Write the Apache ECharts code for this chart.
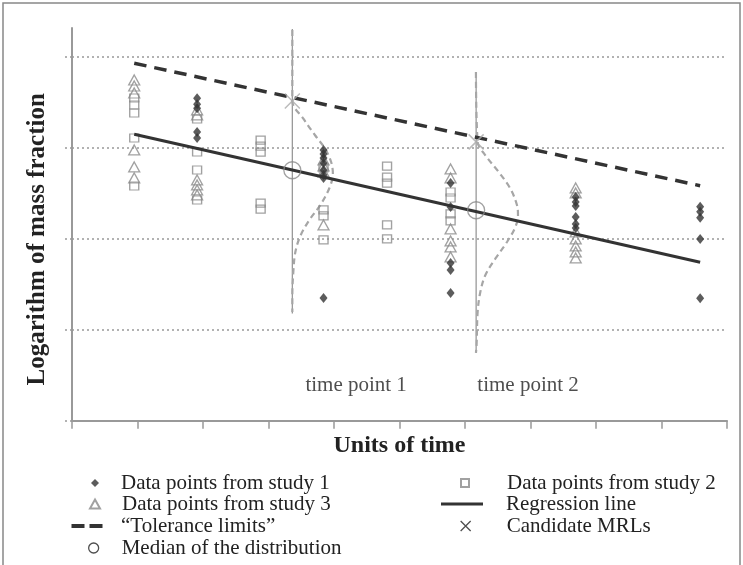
<!DOCTYPE html>
<html><head><meta charset="utf-8">
<script src="https://cdn.jsdelivr.net/npm/echarts@6/dist/echarts.min.js"></script>
<style>html,body{margin:0;padding:0;background:#fff}#c{width:743px;height:565px}</style>
</head><body><div id="c"></div>
<script>
// ---- data ----
const columnX = [0.95, 1.91, 2.88, 3.84, 4.81, 5.78, 7.69, 9.59];
const study1 = [[], [3.548, 3.482, 3.438, 3.177, 3.111], [], [2.979, 2.935, 2.891, 2.836, 2.759, 2.704, 2.671, 1.350], [], [2.615, 2.351, 1.735, 1.658, 1.405], [2.461, 2.406, 2.362, 2.241, 2.164, 2.120], [2.354, 2.299, 2.233, 1.999, 1.347]];
const study2 = [[3.550, 3.473, 3.385, 3.110, 2.582], [3.319, 2.956, 2.758, 2.428], [3.086, 3.020, 2.954, 2.394, 2.328], [2.781, 2.318, 2.252, 1.988], [2.800, 2.679, 2.613, 2.153, 1.999], [2.516, 2.450, 2.274, 2.197], [], []];
const study3 = [[3.748, 3.682, 3.605, 2.978, 2.791, 2.670], [3.418, 3.363, 2.648, 2.593, 2.538, 2.483], [], [2.869, 2.803, 2.737, 2.153], [], [2.769, 2.670, 2.109, 1.977, 1.911, 1.801], [2.560, 2.505, 2.076, 1.999, 1.922, 1.856, 1.790], []];
const regressionLine = [[0.95, 3.151], [9.59, 1.743]];
const toleranceLine = [[0.95, 3.932], [9.59, 2.585]];
const timePointX = [3.364, 6.17];
const candidateMRL = [3.517, 3.067];
const medianValue = [2.755, 2.315];
const timeLineTop = [4.31, 3.836];
const timeLineBottom = [1.18, 0.745];
const curve1 = [[3.364, 4.298], [3.364, 3.517], [3.532, 3.322], [3.711, 3.140], [3.864, 2.992], [3.956, 2.846], [3.983, 2.714], [3.930, 2.560], [3.792, 2.373], [3.624, 2.208], [3.486, 2.032], [3.410, 1.856], [3.379, 1.636], [3.364, 1.383], [3.364, 1.196]];
const curve2 = [[6.167, 3.836], [6.193, 3.067], [6.310, 2.920], [6.514, 2.736], [6.693, 2.552], [6.794, 2.370], [6.809, 2.260], [6.769, 2.131], [6.641, 1.966], [6.463, 1.782], [6.310, 1.600], [6.234, 1.416], [6.193, 1.196], [6.177, 0.833], [6.167, 0.745]];
const timePointLabels = ['time point 1', 'time point 2'];
const timePointLabelAt = [[3.563, 0.382], [6.188, 0.382]];
const xTicks = [0,1,2,3,4,5,6,7,8,9,10];
const yTicks = [0,1,2,3,4];
const names = {
  s1: 'Data points from study 1', s2: 'Data points from study 2', s3: 'Data points from study 3',
  reg: 'Regression line', tol: '\u201CTolerance limits\u201D', mrl: 'Candidate MRLs', med: 'Median of the distribution'
};
// ---- build ----
const FONT = '"Liberation Serif", "Times New Roman", serif';
function pts(cols) {
  const out = [];
  cols.forEach((vals, i) => vals.forEach(v => out.push([columnX[i], v])));
  return out;
}
const X_PATH = 'path://M0,0L10,10M10,0L0,10';

const legendLayout = [
  {name: names.s1, cx: 95, cy: 483, w: 8, h: 8, tx: 121},
  {name: names.s3, cx: 94, cy: 504, w: 10, h: 9, tx: 121},
  {name: names.tol, cx: 87, cy: 526, w: 31, h: 4, tx: 121, icon: 'path://M0,0h13v4h-13zM18,0h13v4h-13z'},
  {name: names.med, cx: 93, cy: 548, w: 10, h: 10, tx: 121, border: '#222'},
  {name: names.s2, cx: 464, cy: 483, w: 8, h: 8, tx: 506},
  {name: names.reg, cx: 462, cy: 504, w: 42, h: 3, tx: 506, icon: 'rect'},
  {name: names.mrl, cx: 465, cy: 526, w: 10, h: 10, tx: 506, border: '#222'}
];
const legends = legendLayout.map(L => {
  const left = L.cx - L.w / 2;
  const pad = L.tx - (left + L.w + 5);
  const lg = {
    data: [L.icon ? {name: L.name, icon: L.icon} : L.name],
    left: left, top: L.cy - 11, padding: 0, orient: 'horizontal',
    itemWidth: L.w, itemHeight: L.h, selectedMode: false,
    textStyle: {fontFamily: FONT, fontSize: 21, color: '#222', lineHeight: 22, padding: [0, 0, 0, pad]}
  };
  if (L.border) lg.itemStyle = {borderColor: L.border, borderWidth: 1.3};
  if (L.icon) { lg.symbolKeepAspect = false; lg.itemStyle = {color: '#333', borderWidth: 0}; }
  return lg;
});

const series = [
  {name: 'tp1line', type: 'line', data: [[timePointX[0], timeLineTop[0]], [timePointX[0], timeLineBottom[0]]], symbol: 'none', lineStyle: {color: '#999', width: 1.3}, z: 1},
  {name: 'tp2line', type: 'line', data: [[timePointX[1], timeLineTop[1]], [timePointX[1], timeLineBottom[1]]], symbol: 'none', lineStyle: {color: '#999', width: 1.3}, z: 1},
  {name: 'curve1', type: 'line', data: curve1, symbol: 'none', smooth: 0.35, lineStyle: {color: '#a6a6a6', width: 2.2, type: [6, 4]}, z: 1},
  {name: 'curve2', type: 'line', data: curve2, symbol: 'none', smooth: 0.35, lineStyle: {color: '#a6a6a6', width: 2.2, type: [6, 4]}, z: 1},
  {name: names.s2, type: 'scatter', data: pts(study2), symbol: 'rect', symbolSize: [9, 8], itemStyle: {color: 'rgba(0,0,0,0)', borderColor: '#8a8a8a', borderWidth: 1.3}, z: 2},
  {name: names.s3, type: 'scatter', data: pts(study3), symbol: 'triangle', symbolSize: [11, 10], itemStyle: {color: 'rgba(0,0,0,0)', borderColor: '#8a8a8a', borderWidth: 1.3}, z: 2},
  {name: names.s1, type: 'scatter', data: pts(study1), symbol: 'diamond', symbolSize: [8, 10], itemStyle: {color: '#333'}, z: 3},
  {name: names.tol, type: 'line', data: toleranceLine, symbol: 'none', itemStyle: {color: '#333'}, lineStyle: {color: '#333', width: 3.5, type: [12.5, 8]}, z: 4},
  {name: names.reg, type: 'line', data: regressionLine, symbol: 'none', itemStyle: {color: '#333'}, lineStyle: {color: '#333', width: 3}, z: 4},
  {name: names.mrl, type: 'scatter', data: timePointX.map((x, i) => [x, candidateMRL[i]]), symbol: X_PATH, symbolSize: 15, itemStyle: {color: 'rgba(0,0,0,0)', borderColor: '#aaa', borderWidth: 1.5}, z: 5},
  {name: names.med, type: 'scatter', data: timePointX.map((x, i) => [x, medianValue[i]]), symbol: 'circle', symbolSize: 17, itemStyle: {color: 'rgba(0,0,0,0)', borderColor: '#8a8a8a', borderWidth: 1.3}, z: 5},
  {name: 'labels', type: 'scatter', symbolSize: 0, itemStyle: {color: 'rgba(0,0,0,0)'},
   data: timePointLabels.map((t, i) => ({name: t, value: timePointLabelAt[i]})),
   label: {show: true, formatter: '{b}', position: 'right', distance: 0, fontFamily: FONT, fontSize: 21, color: '#222'}, z: 5}
];

const chart = echarts.init(document.getElementById('c'), null, {renderer: 'canvas'});
chart.setOption({
  animation: false,
  backgroundColor: '#fff',
  grid: {left: 72, right: 16, top: 28, bottom: 144.3, containLabel: false, outerBoundsMode: 'none'},
  xAxis: {
    type: 'value', min: xTicks[0], max: xTicks[xTicks.length - 1], interval: 1,
    axisLine: {show: true, lineStyle: {color: '#999', width: 2}},
    axisTick: {show: true, length: 8, lineStyle: {color: '#999', width: 1.5}},
    axisLabel: {show: false}, splitLine: {show: false},
    name: 'Units of time', nameLocation: 'middle', nameGap: 13,
    nameTextStyle: {fontFamily: FONT, fontSize: 24, fontWeight: 'bold', color: '#222'}
  },
  yAxis: {
    type: 'value', min: 0, max: 4.32, interval: 1,
    axisLine: {show: true, lineStyle: {color: '#999', width: 2}},
    axisTick: {show: true, length: 7, customValues: yTicks, lineStyle: {color: '#999', width: 1.5, type: [2, 3]}},
    axisLabel: {show: false},
    splitLine: {show: true, showMinLine: false, lineStyle: {color: '#999', width: 1.5, type: [2, 3]}},
    name: 'Logarithm of mass fraction', nameLocation: 'middle', nameGap: 22,
    nameTextStyle: {fontFamily: FONT, fontSize: 25, fontWeight: 'bold', color: '#222', padding: [0, 30, 0, 0]}
  },
  legend: legends,
  series: series,
  graphic: [{type: 'rect', silent: true, shape: {x: 3, y: 3, width: 737, height: 620}, style: {fill: 'none', stroke: '#888', lineWidth: 1.5}}]
});
</script></body></html>
